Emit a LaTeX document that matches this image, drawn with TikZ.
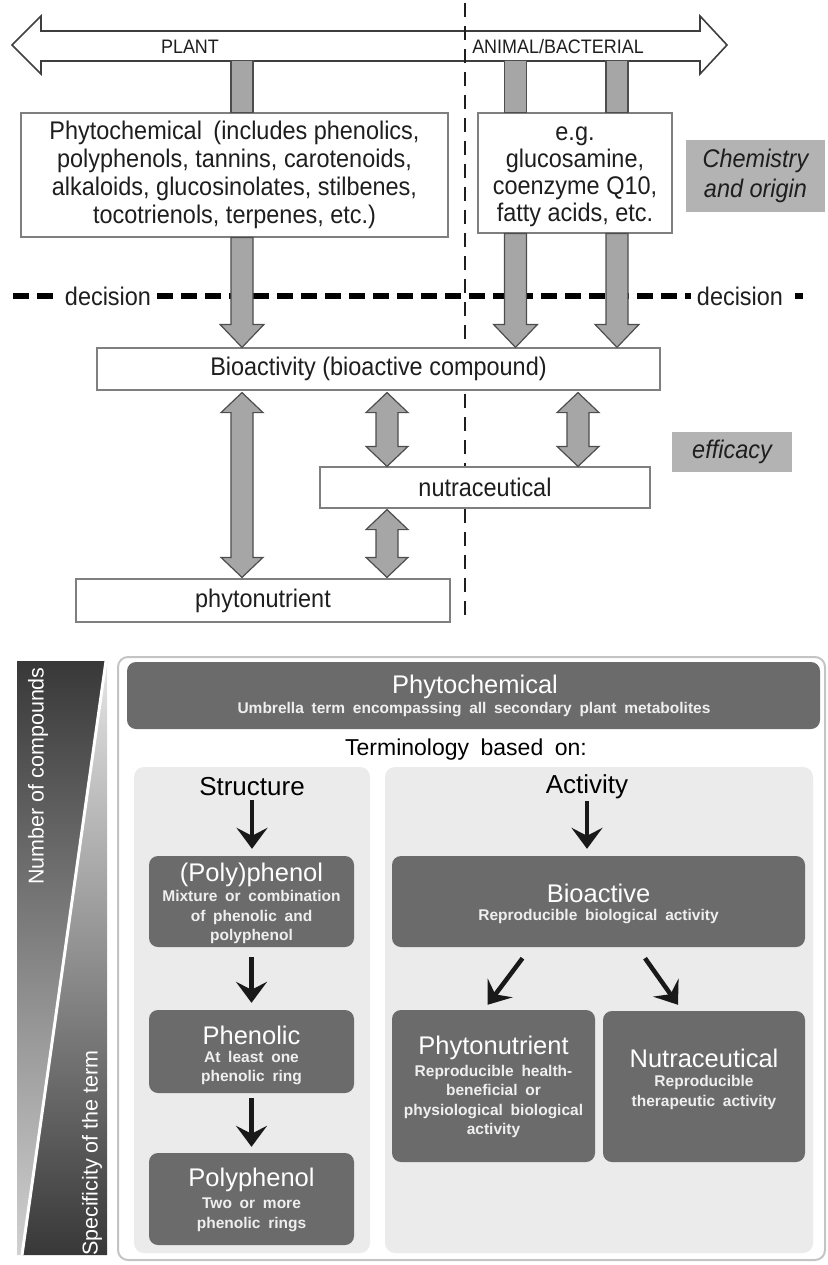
\documentclass[tikz,border=0pt]{standalone}
\usepackage{fontspec}
\setmainfont{Liberation Sans}
\newfontfamily\subf[WordSpace=1.8]{Liberation Sans}
\newfontfamily\narrowf[FakeStretch=0.92]{Liberation Sans}
\usetikzlibrary{arrows.meta,calc}

\definecolor{arrowgray}{HTML}{A6A6A6}
\definecolor{edgegray}{HTML}{4D4D4D}
\definecolor{boxedge}{HTML}{7F7F7F}
\definecolor{labelgray}{HTML}{B3B3B3}
\definecolor{darkfill}{HTML}{6B6B6B}
\definecolor{panelfill}{HTML}{EBEBEB}
\definecolor{txt}{HTML}{1E1E1E}
\definecolor{subtxt}{HTML}{EFEFEF}
\definecolor{outeredge}{HTML}{C4C4C4}

\newcommand\fatdown[2]{%
  \draw[fatarrow] let \p1=#1, \p2=#2 in
   (\x1-11pt,\y1) -- (\x1+11pt,\y1) -- (\x1+11pt,\y2+23pt) -- (\x1+22pt,\y2+23pt)
   -- (\x1,\y2) -- (\x1-22pt,\y2+23pt) -- (\x1-11pt,\y2+23pt) -- cycle;}
\newcommand\fatdouble[2]{%
  \draw[fatarrow] let \p1=#1, \p2=#2 in
   (\x1,\y1) -- (\x1+21pt,\y1-20pt) -- (\x1+11pt,\y1-20pt) -- (\x1+11pt,\y2+20pt)
   -- (\x1+21pt,\y2+20pt) -- (\x1,\y2) -- (\x1-21pt,\y2+20pt) -- (\x1-11pt,\y2+20pt)
   -- (\x1-11pt,\y1-20pt) -- (\x1-21pt,\y1-20pt) -- cycle;}

\begin{document}
\begin{tikzpicture}[x=1pt,y=-1pt,
  topbox/.style={draw=boxedge, line width=1.2pt, fill=white, inner sep=0pt, text=txt,
    font=\narrowf\fontsize{25.5}{28}\selectfont, align=center},
  tagbox/.style={fill=labelgray, inner sep=0pt, text=txt, font=\narrowf\itshape\fontsize{25.5}{30}\selectfont, align=center},
  fatarrow/.style={fill=arrowgray, draw=edgegray, line width=1.2pt, line join=miter},
  decline/.style={line width=6pt, dash pattern=on 16pt off 8pt, draw=black},
  vline/.style={line width=2.6pt, dash pattern=on 14pt off 9pt, draw=txt},
  lbl/.style={text=txt, font=\narrowf\fontsize{19.5}{21}\selectfont, inner sep=0pt},
  decfont/.style={text=txt, font=\narrowf\fontsize{25.5}{27}\selectfont, inner sep=6pt},
  darkbox/.style={fill=darkfill, rounded corners=9pt, inner sep=0pt},
  panelbox/.style={fill=panelfill, rounded corners=10pt, inner sep=0pt},
  ttl/.style={text=white, font=\fontsize{25.5}{28}\selectfont, inner sep=0pt},
  subst/.style={text=subtxt, font=\subf\bfseries\fontsize{15.5}{19.5}\selectfont, align=center, inner sep=0pt},
  hdr/.style={text=black, font=\fontsize{26}{28}\selectfont, inner sep=0pt},
  blk/.style={draw=black!90, line width=4.5pt, -{Stealth[length=21pt, width=31pt, inset=8pt]}},
  rot/.style={rotate=90, text=white, font=\fontsize{21.5}{24}\selectfont, inner sep=0pt}
]
\useasboundingbox (0,0) rectangle (827,1265);

% ---------- top double arrow ----------
\draw[draw=edgegray!80!black, line width=1.6pt, fill=white, line join=miter]
  (12,45) -- (41,16) -- (41,31) -- (700,31) -- (700,16) -- (727,45) -- (700,74)
  -- (700,61) -- (41,61) -- (41,74) -- cycle;
\node[lbl] (plant) at (190,47) {PLANT};
\node[lbl] (animal) at (558,47) {ANIMAL/BACTERIAL};

% ---------- vertical dashed divider ----------
\coordinate (vt) at (465,3);
\coordinate (vb) at (465,617);
\draw[vline] (vt) -- (vb);

% ---------- decision line ----------
\node[decfont] (dec1) at (108,296) {decision};
\node[decfont] (dec2) at (740,296) {decision};
\coordinate (dl) at (13,296);
\coordinate (dr) at (808,296);
\draw[decline] (dl) -- (dec1.west);
\draw[decline] (dec1.east) -- (dec2.west);
\draw[decline, dash pattern=on 8pt off 8pt] ($(dec2.east)+(6,0)$) -- (dr);

% ---------- boxes ----------
\node[topbox, minimum width=427pt, minimum height=124pt] (phyto) at (234.5,175)
  {Phytochemical\hspace{0.45em}(includes phenolics,\\ polyphenols, tannins, carotenoids,\\
   alkaloids, glucosinolates, stilbenes,\\ tocotrienols, terpenes, etc.)};
\node[topbox, minimum width=194pt, minimum height=120pt] (anim) at (575,173) {};
\node[text=txt, font=\narrowf\fontsize{25.5}{27}\selectfont, align=center, inner sep=0pt] (animtxt) at (575,177)
  {e.g.\\ glucosamine,\\ coenzyme Q10,\\ fatty acids, etc.};
\node[tagbox, minimum width=139pt, minimum height=72pt] (chem) at (755.5,176) {Chemistry\\ and origin};

\node[topbox, minimum width=563pt, minimum height=42pt] (bio) at (378.5,369) {Bioactivity (bioactive compound)};
\node[topbox, minimum width=330pt, minimum height=41pt] (nut) at (485,487.5) {nutraceutical};
\node[topbox, minimum width=374pt, minimum height=43pt] (phn) at (263,600.5) {phytonutrient};
\node[tagbox, minimum width=120pt, minimum height=40pt] (eff) at (732,452) {efficacy};

% ---------- arrow columns ----------
\coordinate (xa) at (242,0);
\coordinate (xb) at (515.5,0);
\coordinate (xc) at (617,0);
\coordinate (xd) at (387,0);
\coordinate (xe) at (578,0);

\draw[fatarrow] let \p1=(phyto.north -| xa) in (\x1-11pt,\y1) rectangle (\x1+11pt,\y1+52pt);
\draw[fatarrow] let \p1=(anim.north -| xb) in (\x1-11pt,\y1) rectangle (\x1+11pt,\y1+52pt);
\draw[fatarrow] let \p1=(anim.north -| xc) in (\x1-11pt,\y1) rectangle (\x1+11pt,\y1+52pt);

\fatdown{(phyto.south -| xa)}{(bio.north -| xa)}
\fatdown{(anim.south -| xb)}{(bio.north -| xb)}
\fatdown{(anim.south -| xc)}{(bio.north -| xc)}

\fatdouble{($(bio.south -| xa)+(0,2)$)}{($(phn.north -| xa)+(0,-1)$)}
\fatdouble{($(bio.south -| xd)+(0,2)$)}{(nut.north -| xd)}
\fatdouble{($(bio.south -| xe)+(0,2)$)}{(nut.north -| xe)}
\fatdouble{($(nut.south -| xd)+(0,1)$)}{($(phn.north -| xd)+(0,-1)$)}

% ---------- bottom: gradient bar ----------
\shade[top color=black!78, bottom color=black!18] (17,661) -- (106,661) -- (22,1255) -- (17,1255) -- cycle;
\shade[top color=black!10, bottom color=black!78] (106,661) -- (107,661) -- (107,1255) -- (22,1255) -- cycle;
\coordinate (wa) at (106,661);
\coordinate (wb) at (22,1255);
\draw[white, line width=3pt] (wa) -- (wb);
\node[rot] (numc) at (38,776) {Number of compounds};
\node[rot] (spec) at (92,1153) {Specificity of the term};

% ---------- bottom: main panel ----------
\node[draw=outeredge, line width=2pt, rounded corners=10pt, fill=white, minimum width=707pt, minimum height=603pt, inner sep=0pt] (outer) at (471.5,958.5) {};
\node[darkbox, minimum width=693pt, minimum height=67pt] (banner) at (473.5,695.5) {};
\node[ttl] (bant) at (475,687) {Phytochemical};
\node[subst] (bans) at (474,710) {Umbrella term encompassing all secondary plant metabolites};
\node[text=black, font=\subf\fontsize{23}{26}\selectfont, inner sep=0pt] (term) at (466,750) {Terminology based on:};

\node[panelbox, minimum width=236pt, minimum height=486pt] (lp) at (252,1010) {};
\node[panelbox, minimum width=428pt, minimum height=486pt] (rp) at (599,1010) {};

\node[hdr] (struct) at (252,787) {Structure};
\node[hdr] (act) at (587,787) {Activity};

% structure column
\node[darkbox, minimum width=205pt, minimum height=91pt] (pp) at (251.5,901.5) {};
\node[ttl] (ppt) at (251.5,875) {(Poly)phenol};
\node[subst] (pps) at (251.5,917) {Mixture or combination\\ of phenolic and\\ polyphenol};

\node[darkbox, minimum width=205pt, minimum height=83pt] (phen) at (251.5,1051.5) {};
\node[ttl] (phent) at (251.5,1035) {Phenolic};
\node[subst] (phens) at (251.5,1068) {At least one\\ phenolic ring};

\node[darkbox, minimum width=205pt, minimum height=92pt] (poly) at (251.5,1199) {};
\node[ttl] (polyt) at (251.5,1180) {Polyphenol};
\node[subst] (polys) at (251.5,1215) {Two or more\\ phenolic rings};

\draw[blk] ($(struct.south)+(0,4)$) -- ($(struct.south |- pp.north)+(0,-7)$);
\draw[blk] ($(pp.south)+(0,10)$) -- ($(phen.north)+(0,-7)$);
\draw[blk] ($(phen.south)+(0,5)$) -- ($(poly.north)+(0,-6)$);

% activity column
\node[darkbox, minimum width=413pt, minimum height=91pt] (bioact) at (598.5,901.5) {};
\node[ttl] (bioactt) at (598.5,893) {Bioactive};
\node[subst] (bioacts) at (598.5,917) {Reproducible biological activity};

\node[darkbox, minimum width=203pt, minimum height=152pt] (phytn) at (493.5,1086) {};
\node[ttl] (phytnt) at (493.5,1048) {Phytonutrient};
\node[subst] (phytns) at (493.5,1101.5) {Reproducible health-\\ beneficial or\\ physiological biological\\ activity};

\node[darkbox, minimum width=202pt, minimum height=151pt] (nutr) at (704,1086.5) {};
\node[ttl] (nutrt) at (704,1058) {Nutraceutical};
\node[subst] (nutrs) at (704,1092.5) {Reproducible\\ therapeutic activity};

\draw[blk] ($(act.south)+(0,2)$) -- ($(act.south |- bioact.north)+(0,-7)$);
\draw[blk] ($(bioact.south)+(-76,11)$) -- ($(phytn.north)+(-6,-5)$);
\draw[blk] ($(bioact.south)+(46.5,11)$) -- ($(nutr.north)+(-26,-6)$);
\end{tikzpicture}
\end{document}
